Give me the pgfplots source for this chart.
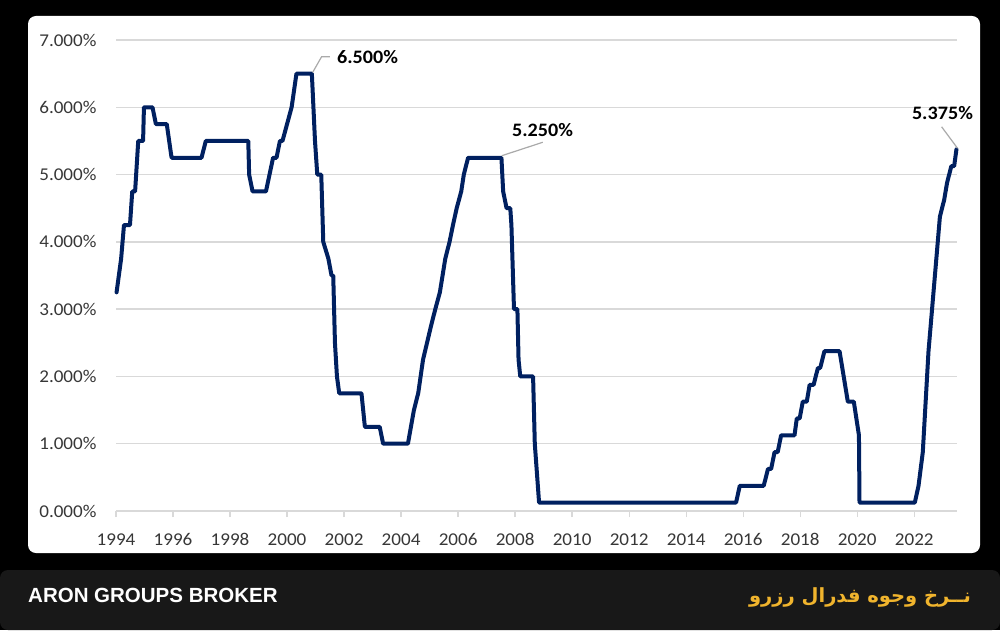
\documentclass[border=0pt]{standalone}
\usepackage{fontspec}
\usepackage{pgfplots}
\pgfplotsset{compat=1.18}
\setmainfont{Carlito}
\newfontfamily\tickfont[FakeStretch=1.06]{Carlito}
\newfontfamily\brandfont{Liberation Sans}
\newfontfamily\arabicfont[Script=Arabic]{DejaVu Sans}
\TeXXeTstate=1
\definecolor{navy}{RGB}{0,32,96}
\definecolor{gridgray}{RGB}{217,217,217}
\definecolor{ticktext}{RGB}{55,55,55}
\definecolor{gold}{RGB}{240,180,45}
\definecolor{barbg}{RGB}{24,24,24}
\definecolor{leader}{RGB}{170,170,170}

\pgfplotstableread{
year rate
1994.02 3.25
1994.10 3.50
1994.18 3.75
1994.28 4.25
1994.49 4.25
1994.57 4.75
1994.67 4.75
1994.78 5.50
1994.95 5.50
1994.98 6.00
1995.28 6.00
1995.40 5.75
1995.78 5.75
1995.95 5.25
1997.00 5.25
1997.15 5.50
1998.64 5.50
1998.67 5.00
1998.79 4.75
1999.26 4.75
1999.51 5.25
1999.63 5.25
1999.75 5.50
1999.84 5.50
2000.00 5.75
2000.16 6.00
2000.33 6.50
2000.87 6.50
2000.98 5.50
2001.06 5.00
2001.20 5.00
2001.27 4.00
2001.45 3.75
2001.56 3.50
2001.62 3.50
2001.68 2.50
2001.75 2.00
2001.83 1.75
2002.61 1.75
2002.73 1.25
2003.25 1.25
2003.37 1.00
2004.24 1.00
2004.45 1.50
2004.60 1.75
2004.77 2.25
2005.05 2.75
2005.20 3.00
2005.36 3.25
2005.55 3.75
2005.70 4.00
2005.82 4.25
2005.95 4.50
2006.11 4.75
2006.20 5.00
2006.35 5.25
2007.52 5.25
2007.58 4.75
2007.70 4.50
2007.83 4.50
2007.87 4.25
2007.96 3.00
2008.08 3.00
2008.12 2.25
2008.18 2.00
2008.63 2.00
2008.69 1.00
2008.84 0.125
2015.75 0.125
2015.88 0.375
2016.72 0.375
2016.87 0.625
2016.98 0.625
2017.10 0.875
2017.21 0.875
2017.33 1.125
2017.80 1.125
2017.88 1.375
2017.98 1.375
2018.09 1.625
2018.23 1.625
2018.33 1.875
2018.47 1.875
2018.62 2.125
2018.70 2.125
2018.85 2.375
2019.38 2.375
2019.67 1.625
2019.88 1.625
2020.06 1.125
2020.08 0.125
2022.02 0.125
2022.15 0.375
2022.30 0.875
2022.40 1.625
2022.50 2.375
2022.65 3.125
2022.80 3.875
2022.90 4.375
2023.05 4.625
2023.15 4.875
2023.30 5.125
2023.40 5.125
2023.48 5.375
}\fedrate

\begin{document}
\begin{tikzpicture}[x=1pt,y=1pt]
\fill[black] (0,0) rectangle (1000,630);
\fill[white, rounded corners=8pt] (28,77) rectangle (980,614);
\fill[barbg, rounded corners=8pt] (0,0) rectangle (1000,60);
\node[anchor=west, text=white, inner sep=0pt, font=\brandfont\bfseries\fontsize{20.5}{24}\selectfont] at (28,35) {ARON GROUPS BROKER};
\node[anchor=east, text=gold, inner sep=0pt, font=\arabicfont\bfseries\fontsize{19.5}{24}\selectfont] at (971,33) {\beginR نــرخ وجوه فدرال رزرو\endR};

\begin{axis}[
  at={(116pt,119pt)}, anchor=south west,
  scale only axis, width=841pt, height=471pt,
  xmin=1994, xmax=2023.5, ymin=0, ymax=7,
  axis line style={draw=none},
  ymajorgrids, grid style={gridgray, line width=1.3pt},
  xtick={1994,1996,1998,2000,2002,2004,2006,2008,2010,2012,2014,2016,2018,2020,2022},
  xticklabels={1994,1996,1998,2000,2002,2004,2006,2008,2010,2012,2014,2016,2018,2020,2022},
  ytick={0,1,2,3,4,5,6,7},
  yticklabels={0.000\%,1.000\%,2.000\%,3.000\%,4.000\%,5.000\%,6.000\%,7.000\%},
  xtick pos=bottom, tick align=outside, major tick length=6pt,
  xtick style={draw=gridgray, line width=1.3pt},
  ytick style={draw=none},
  /pgf/number format/assume math mode=true,
  ticklabel style={font=\tickfont\fontsize{18}{21}\selectfont, text=ticktext},
  yticklabel style={xshift=-10pt},
  xticklabel style={yshift=-13pt},
  clip=false,
]
\addplot[navy, line width=4pt, line join=round, line cap=round] table[x=year, y=rate] {\fedrate};
\draw[leader, line width=1.2pt] (axis cs:2000.9,6.52) -- (axis cs:2001.21,6.75) -- (axis cs:2001.5,6.75);
\node[anchor=west, font=\tickfont\bfseries\fontsize{19}{22}\selectfont, inner sep=0pt] at (axis cs:2001.75,6.75) {6.500\%};
\draw[leader, line width=1.2pt] (axis cs:2007.53,5.28) -- (axis cs:2008.97,5.48);
\node[font=\tickfont\bfseries\fontsize{19}{22}\selectfont, inner sep=0pt] at (axis cs:2008.96,5.66) {5.250\%};
\draw[leader, line width=1.2pt] (axis cs:2023.52,5.39) -- (axis cs:2022.96,5.71);
\node[font=\tickfont\bfseries\fontsize{19}{22}\selectfont, inner sep=0pt] at (axis cs:2022.99,5.91) {5.375\%};
\end{axis}
\end{tikzpicture}
\end{document}
